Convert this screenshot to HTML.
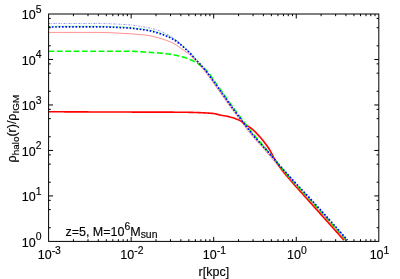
<!DOCTYPE html>
<html><head><meta charset="utf-8"><title>plot</title>
<style>html,body{margin:0;padding:0;background:#fff;width:400px;height:279px;overflow:hidden}</style>
</head><body>
<svg width="400" height="279" viewBox="0 0 400 279" style="position:absolute;left:0;top:0;opacity:0.999">
<rect width="400" height="279" fill="#fff"/>
<g fill="none" stroke-linejoin="round">
<path d="M48.50 111.75 L50.00 111.76 L51.50 111.76 L53.00 111.77 L54.50 111.78 L56.00 111.79 L57.50 111.79 L59.00 111.80 L60.50 111.81 L62.00 111.81 L63.50 111.82 L65.00 111.83 L66.50 111.83 L68.00 111.84 L69.50 111.85 L71.00 111.85 L72.50 111.86 L74.00 111.86 L75.50 111.87 L77.00 111.88 L78.50 111.88 L80.00 111.89 L81.50 111.90 L83.00 111.90 L84.50 111.91 L86.00 111.91 L87.50 111.92 L89.00 111.93 L90.50 111.93 L92.00 111.94 L93.50 111.94 L95.00 111.95 L96.50 111.95 L98.00 111.96 L99.50 111.97 L101.00 111.97 L102.50 111.98 L104.00 111.98 L105.50 111.99 L107.00 111.99 L108.50 112.00 L110.00 112.00 L111.50 112.01 L113.00 112.01 L114.50 112.02 L116.00 112.02 L117.50 112.03 L119.00 112.03 L120.50 112.04 L122.00 112.04 L123.50 112.05 L125.00 112.05 L126.50 112.06 L128.00 112.06 L129.50 112.07 L131.00 112.07 L132.50 112.08 L134.00 112.08 L135.50 112.09 L137.00 112.09 L138.50 112.10 L140.00 112.10 L141.50 112.10 L143.00 112.11 L144.50 112.11 L146.00 112.12 L147.50 112.12 L149.00 112.12 L150.50 112.12 L152.00 112.13 L153.50 112.13 L155.00 112.13 L156.50 112.13 L158.00 112.14 L159.50 112.14 L161.00 112.14 L162.50 112.15 L164.00 112.15 L165.50 112.15 L167.00 112.15 L168.50 112.16 L170.00 112.16 L171.50 112.17 L173.00 112.17 L174.50 112.18 L176.00 112.18 L177.50 112.19 L179.00 112.20 L180.50 112.20 L182.00 112.21 L183.50 112.23 L185.00 112.25 L186.50 112.27 L188.00 112.29 L189.50 112.33 L191.00 112.36 L192.50 112.40 L194.00 112.44 L195.50 112.49 L197.00 112.55 L198.50 112.61 L200.00 112.67 L201.50 112.74 L203.00 112.81 L204.50 112.89 L206.00 112.97 L207.50 113.06 L209.00 113.16 L210.50 113.26 L212.00 113.36 L213.50 113.51 L215.00 113.78 L216.50 114.14 L218.00 114.53 L219.50 114.89 L221.00 115.20 L222.50 115.48 L224.00 115.75 L225.50 116.03 L227.00 116.32 L228.50 116.64 L230.00 117.00 L231.50 117.40 L233.00 117.85 L234.50 118.34 L236.00 118.88 L237.50 119.47 L239.00 120.13 L240.50 120.86 L242.00 121.81 L243.50 122.92 L245.00 124.08 L246.50 125.17 L248.00 126.19 L249.50 127.19 L251.00 128.24 L252.50 129.40 L254.00 130.72 L255.50 132.17 L257.00 133.72 L258.50 135.33 L260.00 136.99 L261.50 138.73 L263.00 140.55 L264.50 142.45 L266.00 144.43 L267.50 146.51 L269.00 148.76 L270.50 151.33 L272.00 154.22 L273.50 157.06 L275.00 159.64 L276.50 162.15 L278.00 164.54 L279.50 166.79 L281.00 168.87 L282.50 170.84 L284.00 172.72 L285.50 174.53 L287.00 176.29 L288.50 178.01 L290.00 179.73 L291.50 181.44 L293.00 183.18 L294.50 184.91 L296.00 186.61 L297.50 188.30 L299.00 189.98 L300.50 191.64 L302.00 193.30 L303.50 194.97 L305.00 196.63 L306.50 198.30 L308.00 199.98 L309.50 201.66 L311.00 203.34 L312.50 205.02 L314.00 206.70 L315.50 208.38 L317.00 210.06 L318.50 211.74 L320.00 213.42 L321.50 215.10 L323.00 216.78 L324.50 218.46 L326.00 220.13 L327.50 221.81 L329.00 223.49 L330.50 225.17 L332.00 226.84 L333.50 228.52 L335.00 230.20 L336.50 231.88 L338.00 233.55 L339.50 235.23 L341.00 236.90 L342.50 238.58 L344.00 240.25" stroke="#ff0000" stroke-width="1.6"/>
<path d="M48.50 51.25 L50.01 51.25 L51.53 51.25 L53.04 51.25 L54.56 51.25 L56.07 51.25 L57.58 51.25 L59.10 51.25 L60.61 51.25 L62.13 51.25 L63.64 51.25 L65.15 51.25 L66.67 51.25 L68.18 51.25 L69.70 51.25 L71.21 51.25 L72.72 51.25 L74.24 51.25 L75.75 51.25 L77.27 51.25 L78.78 51.25 L80.29 51.25 L81.81 51.25 L83.32 51.25 L84.84 51.25 L86.35 51.25 L87.86 51.25 L89.38 51.25 L90.89 51.25 L92.41 51.25 L93.92 51.25 L95.43 51.25 L96.95 51.25 L98.46 51.25 L99.98 51.25 L101.49 51.25 L103.00 51.25 L104.52 51.25 L106.03 51.25 L107.55 51.25 L109.06 51.25 L110.57 51.25 L112.09 51.25 L113.60 51.25 L115.12 51.25 L116.63 51.25 L118.14 51.25 L119.66 51.25 L121.17 51.25 L122.69 51.25 L124.20 51.25 L125.71 51.25 L127.23 51.25 L128.74 51.25 L130.26 51.25 L131.77 51.27 L133.28 51.31 L134.80 51.36 L136.31 51.44 L137.83 51.53 L139.34 51.63 L140.85 51.73 L142.37 51.84 L143.88 51.96 L145.40 52.07 L146.91 52.18 L148.42 52.28 L149.94 52.38 L151.45 52.47 L152.97 52.57 L154.48 52.68 L155.99 52.78 L157.51 52.89 L159.02 53.01 L160.54 53.13 L162.05 53.27 L163.56 53.41 L165.08 53.56 L166.59 53.73 L168.11 53.92 L169.62 54.13 L171.13 54.37 L172.65 54.64 L174.16 54.93 L175.68 55.24 L177.19 55.57 L178.70 55.93 L180.22 56.30 L181.73 56.69 L183.25 57.11 L184.76 57.57 L186.27 58.08 L187.79 58.64 L189.30 59.25 L190.82 59.90 L192.33 60.59 L193.84 61.32 L195.36 62.09 L196.87 62.95 L198.39 63.93 L199.90 64.99 L201.41 66.13 L202.93 67.34 L204.44 68.64 L205.96 70.07 L207.47 71.63 L208.98 73.39 L210.50 75.49 L212.01 77.74 L213.53 79.91 L215.04 82.03 L216.56 84.15 L218.07 86.27 L219.58 88.39 L221.10 90.51 L222.61 92.65 L224.13 94.79 L225.64 96.94 L227.15 99.09 L228.67 101.23 L230.18 103.36 L231.70 105.47 L233.21 107.56 L234.72 109.63 L236.24 111.68 L237.75 113.72 L239.27 115.74 L240.78 117.75 L242.29 119.77 L243.81 121.78 L245.32 123.79 L246.84 125.79 L248.35 127.77 L249.86 129.73 L251.38 131.66 L252.89 133.56 L254.41 135.41 L255.92 137.22 L257.43 139.00 L258.95 140.75 L260.46 142.50 L261.98 144.24 L263.49 146.00 L265.00 147.77 L266.52 149.58 L268.03 151.40 L269.55 153.22 L271.06 155.06 L272.57 156.91 L274.09 158.78 L275.60 160.67 L277.12 162.57 L278.63 164.46 L280.14 166.31 L281.66 168.13 L283.17 169.94 L284.69 171.73 L286.20 173.50 L287.71 175.27 L289.23 177.02 L290.74 178.75 L292.26 180.47 L293.77 182.18 L295.28 183.87 L296.80 185.54 L298.31 187.19 L299.83 188.84 L301.34 190.48 L302.85 192.12 L304.37 193.76 L305.88 195.40 L307.40 197.06 L308.91 198.72 L310.42 200.39 L311.94 202.06 L313.45 203.73 L314.97 205.40 L316.48 207.07 L317.99 208.74 L319.51 210.41 L321.02 212.08 L322.54 213.75 L324.05 215.43 L325.56 217.11 L327.08 218.78 L328.59 220.46 L330.11 222.14 L331.62 223.82 L333.13 225.51 L334.65 227.19 L336.16 228.88 L337.68 230.57 L339.19 232.26 L340.70 233.96 L342.22 235.66 L343.73 237.36 L345.25 239.06 L346.76 240.77" stroke="#00ff00" stroke-width="1.6" stroke-dasharray="5.8 2.55"/>
<path d="M48.50 26.45 L50.01 26.44 L51.53 26.42 L53.04 26.41 L54.56 26.40 L56.07 26.39 L57.58 26.38 L59.10 26.37 L60.61 26.36 L62.13 26.36 L63.64 26.35 L65.15 26.34 L66.67 26.34 L68.18 26.33 L69.70 26.33 L71.21 26.32 L72.72 26.32 L74.24 26.32 L75.75 26.31 L77.27 26.31 L78.78 26.31 L80.29 26.31 L81.81 26.31 L83.32 26.30 L84.84 26.30 L86.35 26.30 L87.86 26.30 L89.38 26.30 L90.89 26.30 L92.41 26.30 L93.92 26.30 L95.43 26.30 L96.95 26.30 L98.46 26.30 L99.98 26.31 L101.49 26.32 L103.00 26.34 L104.52 26.37 L106.03 26.41 L107.55 26.45 L109.06 26.50 L110.57 26.55 L112.09 26.60 L113.60 26.66 L115.12 26.73 L116.63 26.79 L118.14 26.86 L119.66 26.94 L121.17 27.01 L122.69 27.08 L124.20 27.16 L125.71 27.26 L127.23 27.36 L128.74 27.48 L130.26 27.61 L131.77 27.75 L133.28 27.90 L134.80 28.06 L136.31 28.24 L137.83 28.42 L139.34 28.61 L140.85 28.82 L142.37 29.03 L143.88 29.25 L145.40 29.48 L146.91 29.72 L148.42 29.97 L149.94 30.26 L151.45 30.59 L152.97 30.96 L154.48 31.36 L155.99 31.79 L157.51 32.25 L159.02 32.72 L160.54 33.21 L162.05 33.73 L163.56 34.27 L165.08 34.86 L166.59 35.48 L168.11 36.14 L169.62 36.85 L171.13 37.60 L172.65 38.41 L174.16 39.27 L175.68 40.23 L177.19 41.28 L178.70 42.40 L180.22 43.60 L181.73 44.85 L183.25 46.16 L184.76 47.51 L186.27 48.89 L187.79 50.30 L189.30 51.74 L190.82 53.29 L192.33 54.98 L193.84 56.71 L195.36 58.40 L196.87 60.03 L198.39 61.64 L199.90 63.26 L201.41 64.93 L202.93 66.66 L204.44 68.43 L205.96 70.26 L207.47 72.15 L208.98 74.16 L210.50 76.29 L212.01 78.46 L213.53 80.59 L215.04 82.71 L216.56 84.83 L218.07 86.94 L219.58 89.07 L221.10 91.19 L222.61 93.33 L224.13 95.48 L225.64 97.62 L227.15 99.77 L228.67 101.91 L230.18 104.04 L231.70 106.15 L233.21 108.23 L234.72 110.30 L236.24 112.35 L237.75 114.38 L239.27 116.40 L240.78 118.41 L242.29 120.43 L243.81 122.44 L245.32 124.46 L246.84 126.45 L248.35 128.44 L249.86 130.39 L251.38 132.31 L252.89 134.19 L254.41 136.03 L255.92 137.81 L257.43 139.57 L258.95 141.30 L260.46 143.03 L261.98 144.76 L263.49 146.49 L265.00 148.26 L266.52 150.05 L268.03 151.84 L269.55 153.65 L271.06 155.47 L272.57 157.29 L274.09 159.14 L275.60 161.02 L277.12 162.90 L278.63 164.76 L280.14 166.58 L281.66 168.38 L283.17 170.16 L284.69 171.93 L286.20 173.69 L287.71 175.43 L289.23 177.15 L290.74 178.87 L292.26 180.58 L293.77 182.27 L295.28 183.94 L296.80 185.60 L298.31 187.24 L299.83 188.88 L301.34 190.51 L302.85 192.14 L304.37 193.78 L305.88 195.41 L307.40 197.06 L308.91 198.72 L310.42 200.38 L311.94 202.05 L313.45 203.71 L314.97 205.38 L316.48 207.05 L317.99 208.72 L319.51 210.39 L321.02 212.06 L322.54 213.73 L324.05 215.41 L325.56 217.09 L327.08 218.76 L328.59 220.44 L330.11 222.13 L331.62 223.81 L333.13 225.50 L334.65 227.18 L336.16 228.87 L337.68 230.57 L339.19 232.26 L340.70 233.96 L342.22 235.66 L343.73 237.36 L345.25 239.06 L346.76 240.77" stroke="#00ff00" stroke-width="0.45"/>
<path d="M48.50 27.05 L50.02 27.04 L51.54 27.02 L53.05 27.01 L54.57 27.00 L56.09 26.99 L57.61 26.98 L59.12 26.97 L60.64 26.96 L62.16 26.96 L63.68 26.95 L65.19 26.94 L66.71 26.94 L68.23 26.93 L69.75 26.93 L71.26 26.92 L72.78 26.92 L74.30 26.92 L75.82 26.91 L77.33 26.91 L78.85 26.91 L80.37 26.91 L81.89 26.91 L83.40 26.90 L84.92 26.90 L86.44 26.90 L87.96 26.90 L89.47 26.90 L90.99 26.90 L92.51 26.90 L94.03 26.90 L95.54 26.90 L97.06 26.90 L98.58 26.90 L100.10 26.91 L101.61 26.92 L103.13 26.95 L104.65 26.98 L106.17 27.01 L107.68 27.05 L109.20 27.10 L110.72 27.15 L112.24 27.21 L113.76 27.27 L115.27 27.33 L116.79 27.40 L118.31 27.47 L119.83 27.54 L121.34 27.62 L122.86 27.69 L124.38 27.77 L125.90 27.87 L127.41 27.97 L128.93 28.09 L130.45 28.22 L131.97 28.37 L133.48 28.52 L135.00 28.68 L136.52 28.86 L138.04 29.05 L139.55 29.24 L141.07 29.45 L142.59 29.66 L144.11 29.89 L145.62 30.12 L147.14 30.36 L148.66 30.61 L150.18 30.91 L151.69 31.24 L153.21 31.62 L154.73 32.03 L156.25 32.46 L157.76 32.93 L159.28 33.40 L160.80 33.90 L162.32 34.42 L163.83 34.97 L165.35 35.56 L166.87 36.19 L168.39 36.87 L169.91 37.59 L171.42 38.35 L172.94 39.17 L174.46 40.06 L175.98 41.04 L177.49 42.12 L179.01 43.27 L180.53 44.49 L182.05 45.77 L183.56 47.10 L185.08 48.47 L186.60 49.87 L188.12 51.30 L189.63 52.77 L191.15 54.40 L192.67 56.12 L194.19 57.85 L195.70 59.51 L197.22 61.13 L198.74 62.74 L200.26 64.39 L201.77 66.10 L203.29 67.85 L204.81 69.65 L206.33 71.51 L207.84 73.45 L209.36 75.53 L210.88 77.69 L212.40 79.86 L213.91 81.98 L215.43 84.10 L216.95 86.23 L218.47 88.35 L219.98 90.48 L221.50 92.62 L223.02 94.76 L224.54 96.92 L226.05 99.07 L227.57 101.22 L229.09 103.36 L230.61 105.48 L232.13 107.58 L233.64 109.66 L235.16 111.72 L236.68 113.77 L238.20 115.80 L239.71 117.82 L241.23 119.84 L242.75 121.87 L244.27 123.90 L245.78 125.92 L247.30 127.92 L248.82 129.90 L250.34 131.83 L251.85 133.71 L253.37 135.54 L254.89 137.31 L256.41 139.03 L257.92 140.72 L259.44 142.38 L260.96 144.04 L262.48 145.70 L263.99 147.39 L265.51 149.09 L267.03 150.82 L268.55 152.54 L270.06 154.28 L271.58 156.02 L273.10 157.78 L274.62 159.57 L276.13 161.37 L277.65 163.17 L279.17 164.95 L280.69 166.70 L282.20 168.41 L283.72 170.11 L285.24 171.80 L286.76 173.47 L288.27 175.14 L289.79 176.80 L291.31 178.45 L292.83 180.10 L294.35 181.74 L295.86 183.36 L297.38 184.98 L298.90 186.59 L300.42 188.20 L301.93 189.80 L303.45 191.41 L304.97 193.02 L306.49 194.63 L308.00 196.26 L309.52 197.90 L311.04 199.55 L312.56 201.21 L314.07 202.86 L315.59 204.53 L317.11 206.19 L318.63 207.86 L320.14 209.53 L321.66 211.20 L323.18 212.88 L324.70 214.56 L326.21 216.25 L327.73 217.93 L329.25 219.62 L330.77 221.31 L332.28 223.01 L333.80 224.70 L335.32 226.40 L336.84 228.10 L338.35 229.81 L339.87 231.51 L341.39 233.22 L342.91 234.92 L344.42 236.63 L345.94 238.34 L347.46 240.05" stroke="#0000ff" stroke-width="1.7" stroke-dasharray="1.6 1.78"/>
<path d="M48.50 32.40 L50.01 32.40 L51.52 32.40 L53.03 32.40 L54.54 32.40 L56.06 32.40 L57.57 32.40 L59.08 32.40 L60.59 32.40 L62.10 32.40 L63.61 32.40 L65.12 32.40 L66.63 32.40 L68.14 32.40 L69.65 32.40 L71.17 32.40 L72.68 32.40 L74.19 32.40 L75.70 32.40 L77.21 32.40 L78.72 32.40 L80.23 32.40 L81.74 32.40 L83.25 32.40 L84.77 32.40 L86.28 32.40 L87.79 32.40 L89.30 32.40 L90.81 32.40 L92.32 32.40 L93.83 32.40 L95.34 32.40 L96.85 32.40 L98.36 32.40 L99.88 32.41 L101.39 32.43 L102.90 32.46 L104.41 32.50 L105.92 32.55 L107.43 32.60 L108.94 32.66 L110.45 32.73 L111.96 32.80 L113.48 32.88 L114.99 32.96 L116.50 33.04 L118.01 33.13 L119.52 33.21 L121.03 33.29 L122.54 33.38 L124.05 33.46 L125.56 33.54 L127.07 33.62 L128.59 33.71 L130.10 33.80 L131.61 33.90 L133.12 34.00 L134.63 34.10 L136.14 34.21 L137.65 34.33 L139.16 34.46 L140.67 34.60 L142.19 34.74 L143.70 34.90 L145.21 35.06 L146.72 35.24 L148.23 35.43 L149.74 35.67 L151.25 35.96 L152.76 36.31 L154.27 36.69 L155.78 37.11 L157.30 37.55 L158.81 38.00 L160.32 38.45 L161.83 38.90 L163.34 39.37 L164.85 39.86 L166.36 40.38 L167.87 40.93 L169.38 41.51 L170.90 42.14 L172.41 42.82 L173.92 43.57 L175.43 44.45 L176.94 45.43 L178.45 46.48 L179.96 47.57 L181.47 48.67 L182.98 49.74 L184.49 50.80 L186.01 51.87 L187.52 53.00 L189.03 54.21 L190.54 55.54 L192.05 56.99 L193.56 58.52 L195.07 60.07 L196.58 61.67 L198.09 63.31 L199.61 65.01 L201.12 66.74 L202.63 68.52 L204.14 70.35 L205.65 72.24 L207.16 74.21 L208.67 76.30 L210.18 78.45 L211.69 80.59 L213.21 82.71 L214.72 84.82 L216.23 86.93 L217.74 89.05 L219.25 91.17 L220.76 93.30 L222.27 95.44 L223.78 97.58 L225.29 99.72 L226.80 101.86 L228.32 103.99 L229.83 106.11 L231.34 108.20 L232.85 110.27 L234.36 112.32 L235.87 114.36 L237.38 116.38 L238.89 118.39 L240.40 120.40 L241.92 122.42 L243.43 124.44 L244.94 126.44 L246.45 128.44 L247.96 130.40 L249.47 132.33 L250.98 134.22 L252.49 136.06 L254.00 137.84 L255.51 139.58 L257.03 141.29 L258.54 142.98 L260.05 144.66 L261.56 146.35 L263.07 148.06 L264.58 149.79 L266.09 151.54 L267.60 153.29 L269.11 155.06 L270.63 156.83 L272.14 158.62 L273.65 160.43 L275.16 162.26 L276.67 164.09 L278.18 165.90 L279.69 167.67 L281.20 169.42 L282.71 171.15 L284.22 172.87 L285.74 174.57 L287.25 176.26 L288.76 177.94 L290.27 179.62 L291.78 181.29 L293.29 182.95 L294.80 184.59 L296.31 186.22 L297.82 187.84 L299.34 189.45 L300.85 191.06 L302.36 192.68 L303.87 194.29 L305.38 195.91 L306.89 197.55 L308.40 199.19 L309.91 200.84 L311.42 202.50 L312.93 204.15 L314.45 205.81 L315.96 207.47 L317.47 209.14 L318.98 210.80 L320.49 212.47 L322.00 214.14 L323.51 215.81 L325.02 217.49 L326.53 219.17 L328.05 220.85 L329.56 222.53 L331.07 224.21 L332.58 225.90 L334.09 227.59 L335.60 229.28 L337.11 230.97 L338.62 232.66 L340.13 234.36 L341.64 236.06 L343.16 237.76 L344.67 239.46 L346.18 241.16" stroke="#ff4040" stroke-width="0.6"/>
<path d="M48.50 23.50 L50.02 23.50 L51.54 23.50 L53.05 23.50 L54.57 23.50 L56.09 23.50 L57.61 23.50 L59.12 23.50 L60.64 23.50 L62.16 23.50 L63.68 23.50 L65.19 23.50 L66.71 23.50 L68.23 23.50 L69.75 23.50 L71.26 23.50 L72.78 23.50 L74.30 23.50 L75.82 23.50 L77.33 23.50 L78.85 23.50 L80.37 23.50 L81.89 23.50 L83.40 23.50 L84.92 23.50 L86.44 23.50 L87.96 23.50 L89.47 23.50 L90.99 23.50 L92.51 23.50 L94.03 23.50 L95.54 23.50 L97.06 23.50 L98.58 23.50 L100.10 23.51 L101.61 23.53 L103.13 23.55 L104.65 23.58 L106.17 23.62 L107.68 23.67 L109.20 23.72 L110.72 23.78 L112.24 23.85 L113.76 23.92 L115.27 23.99 L116.79 24.06 L118.31 24.14 L119.83 24.22 L121.34 24.31 L122.86 24.39 L124.38 24.48 L125.90 24.59 L127.41 24.71 L128.93 24.85 L130.45 25.00 L131.97 25.16 L133.48 25.34 L135.00 25.53 L136.52 25.73 L138.04 25.95 L139.55 26.17 L141.07 26.41 L142.59 26.65 L144.11 26.91 L145.62 27.17 L147.14 27.44 L148.66 27.73 L150.18 28.05 L151.69 28.41 L153.21 28.81 L154.73 29.25 L156.25 29.72 L157.76 30.23 L159.28 30.76 L160.80 31.31 L162.32 31.91 L163.83 32.57 L165.35 33.28 L166.87 34.05 L168.39 34.87 L169.91 35.75 L171.42 36.68 L172.94 37.66 L174.46 38.77 L175.98 40.05 L177.49 41.45 L179.01 42.92 L180.53 44.40 L182.05 45.84 L183.56 47.20 L185.08 48.53 L186.60 49.87 L188.12 51.28 L189.63 52.80 L191.15 54.44 L192.67 56.14 L194.19 57.85 L195.70 59.51 L197.22 61.13 L198.74 62.74 L200.26 64.39 L201.77 66.10 L203.29 67.85 L204.81 69.65 L206.33 71.51 L207.84 73.45 L209.36 75.53 L210.88 77.69 L212.40 79.86 L213.91 81.98 L215.43 84.10 L216.95 86.23 L218.47 88.35 L219.98 90.48 L221.50 92.62 L223.02 94.76 L224.54 96.92 L226.05 99.07 L227.57 101.22 L229.09 103.36 L230.61 105.48 L232.13 107.58 L233.64 109.66 L235.16 111.72 L236.68 113.77 L238.20 115.80 L239.71 117.82 L241.23 119.84 L242.75 121.87 L244.27 123.90 L245.78 125.92 L247.30 127.92 L248.82 129.90 L250.34 131.83 L251.85 133.71 L253.37 135.54 L254.89 137.31 L256.41 139.03 L257.92 140.72 L259.44 142.38 L260.96 144.04 L262.48 145.70 L263.99 147.39 L265.51 149.09 L267.03 150.82 L268.55 152.54 L270.06 154.28 L271.58 156.02 L273.10 157.78 L274.62 159.57 L276.13 161.37 L277.65 163.17 L279.17 164.95 L280.69 166.70 L282.20 168.41 L283.72 170.11 L285.24 171.80 L286.76 173.47 L288.27 175.14 L289.79 176.80 L291.31 178.45 L292.83 180.10 L294.35 181.74 L295.86 183.36 L297.38 184.98 L298.90 186.59 L300.42 188.20 L301.93 189.80 L303.45 191.41 L304.97 193.02 L306.49 194.63 L308.00 196.26 L309.52 197.90 L311.04 199.55 L312.56 201.21 L314.07 202.86 L315.59 204.53 L317.11 206.19 L318.63 207.86 L320.14 209.53 L321.66 211.20 L323.18 212.88 L324.70 214.56 L326.21 216.25 L327.73 217.93 L329.25 219.62 L330.77 221.31 L332.28 223.01 L333.80 224.70 L335.32 226.40 L336.84 228.10 L338.35 229.81 L339.87 231.51 L341.39 233.22 L342.91 234.92 L344.42 236.63 L345.94 238.34 L347.46 240.05" stroke="#0000ff" stroke-width="0.45" stroke-dasharray="1.8 1.1 0.6 1.5"/>
</g>
<g stroke="#000" stroke-width="1" fill="none" shape-rendering="auto">
<rect x="48.6" y="14.0" width="330.2" height="227.4"/>
<path d="M73.45 241.4 v-2.2 M73.45 14.0 v2.2 M87.99 241.4 v-2.2 M87.99 14.0 v2.2 M98.30 241.4 v-2.2 M98.30 14.0 v2.2 M106.30 241.4 v-2.2 M106.30 14.0 v2.2 M112.84 241.4 v-2.2 M112.84 14.0 v2.2 M118.36 241.4 v-2.2 M118.36 14.0 v2.2 M123.15 241.4 v-2.2 M123.15 14.0 v2.2 M127.37 241.4 v-2.2 M127.37 14.0 v2.2 M131.15 241.4 v-4.5 M131.15 14.0 v4.5 M156.00 241.4 v-2.2 M156.00 14.0 v2.2 M170.54 241.4 v-2.2 M170.54 14.0 v2.2 M180.85 241.4 v-2.2 M180.85 14.0 v2.2 M188.85 241.4 v-2.2 M188.85 14.0 v2.2 M195.39 241.4 v-2.2 M195.39 14.0 v2.2 M200.91 241.4 v-2.2 M200.91 14.0 v2.2 M205.70 241.4 v-2.2 M205.70 14.0 v2.2 M209.92 241.4 v-2.2 M209.92 14.0 v2.2 M213.70 241.4 v-4.5 M213.70 14.0 v4.5 M238.55 241.4 v-2.2 M238.55 14.0 v2.2 M253.09 241.4 v-2.2 M253.09 14.0 v2.2 M263.40 241.4 v-2.2 M263.40 14.0 v2.2 M271.40 241.4 v-2.2 M271.40 14.0 v2.2 M277.94 241.4 v-2.2 M277.94 14.0 v2.2 M283.46 241.4 v-2.2 M283.46 14.0 v2.2 M288.25 241.4 v-2.2 M288.25 14.0 v2.2 M292.47 241.4 v-2.2 M292.47 14.0 v2.2 M296.25 241.4 v-4.5 M296.25 14.0 v4.5 M321.10 241.4 v-2.2 M321.10 14.0 v2.2 M335.64 241.4 v-2.2 M335.64 14.0 v2.2 M345.95 241.4 v-2.2 M345.95 14.0 v2.2 M353.95 241.4 v-2.2 M353.95 14.0 v2.2 M360.49 241.4 v-2.2 M360.49 14.0 v2.2 M366.01 241.4 v-2.2 M366.01 14.0 v2.2 M370.80 241.4 v-2.2 M370.80 14.0 v2.2 M375.02 241.4 v-2.2 M375.02 14.0 v2.2 M48.6 227.71 h2.2 M378.8 227.71 h-2.2 M48.6 209.61 h2.2 M378.8 209.61 h-2.2 M48.6 200.33 h2.2 M378.8 200.33 h-2.2 M48.6 195.92 h4.5 M378.8 195.92 h-4.5 M48.6 182.23 h2.2 M378.8 182.23 h-2.2 M48.6 164.13 h2.2 M378.8 164.13 h-2.2 M48.6 154.85 h2.2 M378.8 154.85 h-2.2 M48.6 150.44 h4.5 M378.8 150.44 h-4.5 M48.6 136.75 h2.2 M378.8 136.75 h-2.2 M48.6 118.65 h2.2 M378.8 118.65 h-2.2 M48.6 109.37 h2.2 M378.8 109.37 h-2.2 M48.6 104.96 h4.5 M378.8 104.96 h-4.5 M48.6 91.27 h2.2 M378.8 91.27 h-2.2 M48.6 73.17 h2.2 M378.8 73.17 h-2.2 M48.6 63.89 h2.2 M378.8 63.89 h-2.2 M48.6 59.48 h4.5 M378.8 59.48 h-4.5 M48.6 45.79 h2.2 M378.8 45.79 h-2.2 M48.6 27.69 h2.2 M378.8 27.69 h-2.2 M48.6 18.41 h2.2 M378.8 18.41 h-2.2"/>
</g>
<defs><filter id="g" x="0" y="0" width="400" height="279" filterUnits="userSpaceOnUse" color-interpolation-filters="sRGB"><feColorMatrix type="saturate" values="0"/></filter></defs>
<g font-family="Liberation Sans, sans-serif" font-size="12.5" fill="#000" stroke="#000" stroke-width="0.15" filter="url(#g)">
<text x="49.30" y="259.4" text-anchor="middle">10<tspan dy="-5.7" font-size="10.4">-3</tspan></text>
<text x="131.85" y="259.4" text-anchor="middle">10<tspan dy="-5.7" font-size="10.4">-2</tspan></text>
<text x="214.40" y="259.4" text-anchor="middle">10<tspan dy="-5.7" font-size="10.4">-1</tspan></text>
<text x="296.95" y="259.4" text-anchor="middle">10<tspan dy="-5.7" font-size="10.4">0</tspan></text>
<text x="379.50" y="259.4" text-anchor="middle">10<tspan dy="-5.7" font-size="10.4">1</tspan></text>
<text x="21.8" y="246.80">10<tspan dy="-6.5" font-size="10.4">0</tspan></text>
<text x="21.8" y="201.32">10<tspan dy="-6.5" font-size="10.4">1</tspan></text>
<text x="21.8" y="155.84">10<tspan dy="-6.5" font-size="10.4">2</tspan></text>
<text x="21.8" y="110.36">10<tspan dy="-6.5" font-size="10.4">3</tspan></text>
<text x="21.8" y="64.88">10<tspan dy="-6.5" font-size="10.4">4</tspan></text>
<text x="21.8" y="19.40">10<tspan dy="-6.5" font-size="10.4">5</tspan></text>
<text x="65.4" y="235.5">z=5, M=10<tspan dy="-5.8" font-size="10.4">6</tspan><tspan dy="5.8">M</tspan><tspan dy="2.3" font-size="10.4">sun</tspan></text>
<text x="198.6" y="276.1">r[kpc]</text>
<text transform="translate(15.5,162.4) rotate(-90)">ρ<tspan dy="3.3" font-size="9.9">halo</tspan><tspan dy="-3.3">(r)/ρ</tspan><tspan dy="3.3" font-size="9.9">IGM</tspan></text>
</g>
</svg>
</body></html>
